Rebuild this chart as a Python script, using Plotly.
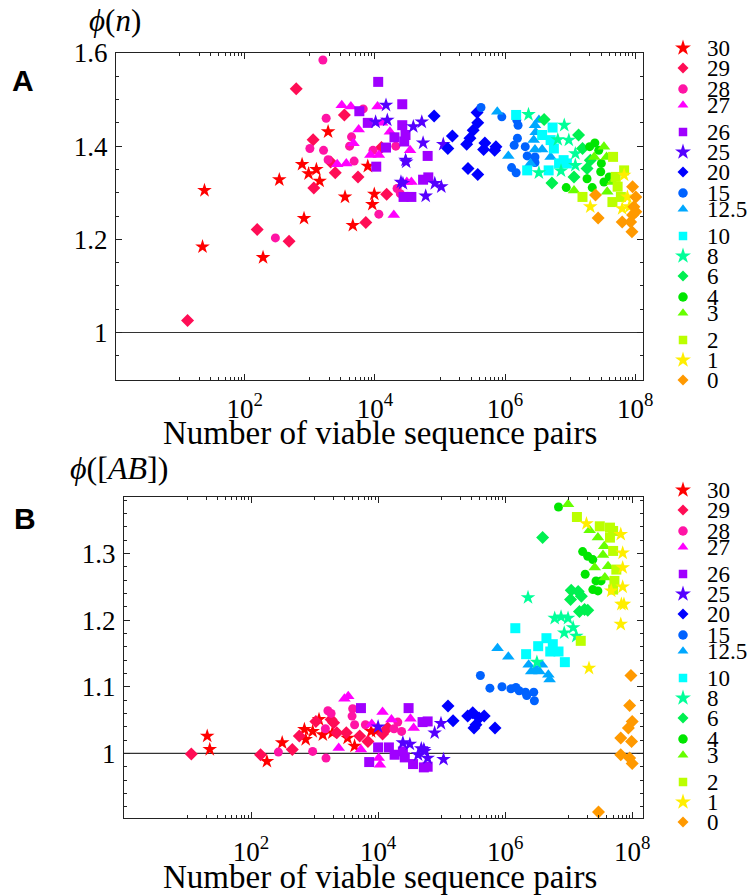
import plotly.graph_objects as go

W, H = 753, 896

categories = ["30", "29", "28", "27", "26", "25", "20", "15", "12.5",
              "10", "8", "6", "4", "3", "2", "1", "0"]
colors = ["#FF0000", "#FF0D55", "#FF14A5", "#FF00FF", "#A000FF", "#5500FF",
          "#0000FF", "#0062FF", "#00A8FF", "#00FFFF", "#00FF99", "#00F050",
          "#00E600", "#66FF00", "#BBFF00", "#FFEE00", "#FF9900"]

# ---- Panel A: (log10 of number of viable pairs, phi(n)) ----
a30 = [(1.38, 1.305), (1.35, 1.184), (2.28, 1.161), (2.53, 1.328), (2.91, 1.245), (2.88, 1.361),
       (2.98, 1.341), (3.10, 1.350), (3.15, 1.325), (3.28, 1.431), (3.54, 1.291), (3.66, 1.230),
       (3.89, 1.357), (3.99, 1.297), (3.96, 1.275)]
a29 = [(1.12, 1.026), (2.19, 1.221), (2.68, 1.196), (2.79, 1.523), (3.06, 1.310), (3.05, 1.414),
       (3.32, 1.366), (3.39, 1.343), (3.53, 1.467), (3.74, 1.334), (3.86, 1.236), (4.10, 1.397),
       (4.18, 1.297)]
a28 = [(2.47, 1.203), (3.00, 1.395), (3.20, 1.585), (3.25, 1.460), (3.21, 1.391), (3.28, 1.371),
       (3.64, 1.420), (3.61, 1.400), (3.68, 1.368), (3.82, 1.480), (3.97, 1.391), (4.06, 1.254),
       (4.32, 1.400), (4.34, 1.309), (4.39, 1.298)]
a27 = [(3.49, 1.488), (3.63, 1.485), (4.04, 1.485), (3.75, 1.436), (3.67, 1.406), (4.11, 1.450),
       (4.23, 1.431), (3.56, 1.363), (3.42, 1.361), (3.93, 1.381), (4.06, 1.381), (4.29, 1.252),
       (4.54, 1.391), (4.56, 1.323), (4.49, 1.323)]
a26 = [(4.05, 1.538), (4.42, 1.490), (3.76, 1.475), (3.89, 1.450), (4.42, 1.445), (4.30, 1.419),
       (4.45, 1.410), (4.17, 1.397), (4.02, 1.356), (4.47, 1.424), (4.81, 1.379), (4.74, 1.328),
       (4.82, 1.333), (4.56, 1.291), (4.44, 1.291)]
a25 = [(4.17, 1.488), (4.19, 1.456), (4.01, 1.452), (4.47, 1.370), (4.40, 1.323), (4.72, 1.452),
       (4.59, 1.442), (4.74, 1.407), (5.05, 1.404), (4.48, 1.366), (4.92, 1.320), (5.02, 1.313),
       (4.78, 1.293), (4.43, 1.320)]
a20 = [(4.91, 1.465), (5.19, 1.422), (5.12, 1.395), (5.57, 1.472), (5.58, 1.450), (5.51, 1.434),
       (5.46, 1.417), (5.41, 1.404), (5.69, 1.407), (5.67, 1.393), (5.84, 1.391), (5.86, 1.399),
       (5.43, 1.352), (5.58, 1.339)]
a15 = [(5.63, 1.483), (5.95, 1.463), (6.18, 1.456), (6.20, 1.445), (6.19, 1.417), (6.14, 1.402),
       (6.31, 1.399), (6.34, 1.379), (6.46, 1.377), (6.46, 1.365), (6.10, 1.354), (6.17, 1.343)]
a12_5 = [(5.88, 1.474), (6.05, 1.379), (6.46, 1.445), (6.44, 1.413), (6.46, 1.393), (6.57, 1.393),
         (6.39, 1.363), (6.70, 1.377), (6.52, 1.456), (6.47, 1.430)]
a10 = [(6.17, 1.467), (6.73, 1.440), (6.57, 1.424), (6.70, 1.413), (6.75, 1.395), (6.90, 1.370),
       (6.67, 1.348), (6.34, 1.348), (6.83, 1.363), (6.95, 1.363)]
a8 = [(6.36, 1.468), (6.91, 1.445), (6.81, 1.414), (6.98, 1.413), (7.08, 1.384), (6.86, 1.347),
      (6.52, 1.343), (7.08, 1.359)]
a6 = [(6.60, 1.457), (7.13, 1.424), (7.19, 1.395), (7.06, 1.334), (6.72, 1.321), (7.26, 1.352),
      (7.31, 1.370)]
a4 = [(7.38, 1.407), (7.30, 1.399), (7.44, 1.391), (6.94, 1.311), (7.26, 1.330), (7.34, 1.311),
      (7.47, 1.345), (7.52, 1.323), (7.60, 1.334), (7.48, 1.363)]
a3 = [(7.52, 1.399), (7.56, 1.377), (7.37, 1.377), (7.06, 1.305), (7.57, 1.302), (7.65, 1.323)]
a2 = [(7.66, 1.377), (7.83, 1.348), (7.73, 1.313), (7.65, 1.280), (7.19, 1.291), (7.78, 1.291),
      (7.70, 1.334)]
a1 = [(7.83, 1.338), (7.88, 1.291), (7.31, 1.270), (7.80, 1.266), (7.91, 1.270)]
a0 = [(7.96, 1.313), (8.01, 1.291), (7.98, 1.270), (7.96, 1.252), (7.80, 1.237), (7.95, 1.216),
      (7.43, 1.246), (7.39, 1.295), (8.01, 1.259), (7.93, 1.237)]

# ---- Panel B: (log10 of number of viable pairs, phi([AB])) ----
b30 = [(1.31, 1.026), (1.35, 1.006), (2.25, 0.988), (2.49, 1.016), (2.84, 1.036), (2.86, 1.021),
       (2.97, 1.033), (3.07, 1.051), (3.13, 1.028), (3.28, 1.031), (3.52, 1.023), (3.63, 1.011),
       (3.89, 1.033), (3.97, 1.034)]
b29 = [(1.06, 0.999), (2.15, 0.998), (2.65, 1.006), (2.76, 1.026), (3.02, 1.048), (3.26, 1.051),
       (3.30, 1.046), (3.35, 1.031), (3.50, 1.031), (3.71, 1.026), (3.84, 1.018), (4.07, 1.029),
       (4.15, 1.038)]
b28 = [(2.43, 1.002), (2.97, 1.003), (3.18, 0.993), (3.17, 1.037), (3.21, 1.064), (3.26, 1.060),
       (3.60, 1.067), (3.59, 1.056), (3.63, 1.043), (3.80, 1.043), (4.31, 1.047), (4.37, 1.033),
       (4.25, 1.037)]
b27 = [(3.47, 1.082), (3.53, 1.086), (3.38, 1.008), (3.90, 1.044), (4.07, 1.062), (4.21, 1.051),
       (4.51, 1.052), (4.56, 1.038), (3.73, 1.006), (4.01, 0.993), (4.03, 0.983)]
b26 = [(3.73, 1.068), (4.48, 1.068), (4.70, 1.047), (4.00, 1.009), (4.17, 1.009), (3.86, 0.987),
       (4.26, 0.998), (4.42, 0.994), (4.55, 0.984), (4.72, 0.979), (4.78, 1.048), (4.78, 0.980),
       (4.39, 1.003)]
b25 = [(4.39, 1.016), (4.50, 1.014), (4.68, 1.007), (4.63, 0.998), (4.00, 1.040), (4.99, 1.045),
       (4.89, 1.031), (4.72, 1.006), (4.78, 0.993), (5.03, 0.991), (4.73, 1.003)]
b20 = [(5.10, 1.071), (5.18, 1.049), (5.41, 1.056), (5.49, 1.061), (5.54, 1.043), (5.59, 1.053),
       (5.67, 1.056), (5.84, 1.038), (5.51, 1.038)]
b15 = [(5.61, 1.117), (5.76, 1.098), (5.95, 1.100), (6.09, 1.097), (6.17, 1.099), (6.22, 1.094),
       (6.32, 1.092), (6.34, 1.087), (6.45, 1.092), (6.46, 1.079)]
b12_5 = [(5.88, 1.158), (6.05, 1.145), (6.37, 1.133), (6.41, 1.123), (6.58, 1.133), (6.54, 1.123),
         (6.48, 1.126), (6.70, 1.111), (6.68, 1.118)]
b10 = [(6.16, 1.188), (6.33, 1.149), (6.65, 1.173), (6.52, 1.161), (6.75, 1.164), (6.71, 1.153),
       (6.84, 1.153), (6.94, 1.137)]
b8 = [(6.36, 1.234), (6.78, 1.203), (6.88, 1.205), (6.99, 1.203), (6.93, 1.181), (7.07, 1.189),
      (7.12, 1.176), (6.50, 1.137)]
b6 = [(6.59, 1.324), (7.04, 1.245), (7.15, 1.243), (7.20, 1.236), (7.03, 1.231), (7.17, 1.213),
      (7.25, 1.216), (7.30, 1.215)]
b4 = [(6.84, 1.370), (7.22, 1.303), (7.30, 1.296), (7.38, 1.291), (7.26, 1.269), (7.43, 1.259),
      (7.51, 1.259), (7.38, 1.246), (7.46, 1.244)]
b3 = [(6.99, 1.374), (7.33, 1.335), (7.46, 1.324), (7.56, 1.311), (7.54, 1.298), (7.62, 1.281),
      (7.57, 1.264), (7.41, 1.279)]
b2 = [(7.13, 1.355), (7.49, 1.341), (7.65, 1.339), (7.70, 1.334), (7.65, 1.324), (7.70, 1.304),
      (7.75, 1.276), (7.72, 1.259), (7.70, 1.246), (7.19, 1.169)]
b1 = [(7.28, 1.345), (7.82, 1.329), (7.85, 1.301), (7.85, 1.279), (7.85, 1.250), (7.83, 1.224),
      (7.87, 1.224), (7.82, 1.194), (7.32, 1.128), (7.67, 1.244)]
b0 = [(7.98, 1.117), (7.96, 1.072), (8.00, 1.048), (7.94, 1.038), (7.99, 1.018), (7.82, 1.023),
      (7.82, 0.998), (7.96, 0.993), (8.00, 0.985), (7.47, 0.912)]

panelA = [a30, a29, a28, a27, a26, a25, a20, a15, a12_5, a10, a8, a6, a4, a3, a2, a1, a0]
panelB = [b30, b29, b28, b27, b26, b25, b20, b15, b12_5, b10, b8, b6, b4, b3, b2, b1, b0]

x_tickvals = [1e2, 1e4, 1e6, 1e8]
x_ticktext = ["10<sup>2</sup>", "10<sup>4</sup>", "10<sup>6</sup>", "10<sup>8</sup>"]
x_title = "Number of viable sequence pairs"

# ---- styles ----
plot_symbols = ["star", "diamond", "circle", "triangle-up", "square"]
plot_sizes = [11, 10, 9, 11, 10]
leg_symbols = ["star", "diamond", "circle", "triangle-up", "square"]
leg_sizes = [12, 8.5, 9.5, 9.5, 8.5]
SERIF = "Liberation Serif"

fig = go.Figure()

for panel, xa, ya in [(panelA, "x", "y"), (panelB, "x2", "y2")]:
    for i, (cat, pts) in enumerate(zip(categories, panel)):
        fig.add_trace(go.Scatter(
            x=[10 ** p[0] for p in pts], y=[p[1] for p in pts],
            mode="markers", xaxis=xa, yaxis=ya, showlegend=False, name=cat,
            marker=dict(symbol=plot_symbols[i % 5], size=plot_sizes[i % 5],
                        color=colors[i], line=dict(width=0))))

# ---- custom legends (pixel-space helper axis) ----
group_offsets = [0, 20, 41, 57, 84]
legend_tops = [48, 490]
leg_x, leg_tx = 683, 705
annotations = []
for top in legend_tops:
    ys = [top + 104 * (i // 5) + group_offsets[i % 5] for i in range(len(categories))]
    for i, cat in enumerate(categories):
        fig.add_trace(go.Scatter(
            x=[leg_x], y=[ys[i]], mode="markers", xaxis="x3", yaxis="y3",
            showlegend=False, hoverinfo="skip",
            marker=dict(symbol=leg_symbols[i % 5], size=leg_sizes[i % 5],
                        color=colors[i], line=dict(width=0))))
        annotations.append(dict(x=leg_tx, y=ys[i], xref="x3", yref="y3", text=cat,
                                showarrow=False, xanchor="left", yanchor="middle",
                                font=dict(family=SERIF, size=23, color="black")))

# panel labels and axis titles
def pa(px, py, text, font):
    annotations.append(dict(x=px / W, y=1 - py / H, xref="paper", yref="paper",
                            xanchor="center", yanchor="middle",
                            text=text, showarrow=False, font=font))

pa(23, 80, "<b>A</b>", dict(family="Liberation Sans", size=30, color="black"))
pa(25, 518, "<b>B</b>", dict(family="Liberation Sans", size=30, color="black"))
pa(115, 20, "<i>ϕ</i>(<i>n</i>)", dict(family=SERIF, size=31, color="black"))
pa(119, 468, "<i>ϕ</i>([<i>AB</i>])", dict(family=SERIF, size=32, color="black"))
pa(380, 433, x_title, dict(family=SERIF, size=33, color="black"))
pa(380, 877, x_title, dict(family=SERIF, size=33, color="black"))

axis_common = dict(showline=True, linecolor="#222", linewidth=1.3, mirror="allticks",
                   ticks="inside", ticklen=6, tickcolor="#222", tickwidth=1,
                   showgrid=False, zeroline=False, automargin=False,
                   tickfont=dict(family=SERIF, size=27, color="black"))

minor_x = [k * 10 ** d for d in (1, 3, 5, 7) for k in range(1, 10)]

xaxis_common = dict(axis_common, type="log", tickmode="array", tickvals=x_tickvals,
                    ticktext=x_ticktext,
                    minor=dict(tickmode="array", tickvals=minor_x, ticks="inside",
                               ticklen=3, tickcolor="#222"))

fig.update_layout(
    width=W, height=H, margin=dict(l=0, r=0, t=0, b=0, autoexpand=False),
    paper_bgcolor="white", plot_bgcolor="rgba(0,0,0,0)", showlegend=False,
    xaxis=dict(xaxis_common, domain=[116 / W, 643 / W], range=[0.02, 8.12], anchor="y",
               ticklabelstandoff=4),
    yaxis=dict(axis_common, domain=[1 - 380 / H, 1 - 53 / H], range=[0.898, 1.6],
               tickmode="linear", tick0=1.0, dtick=0.2, ticklabelstandoff=2,
               minor=dict(dtick=0.05, ticks="inside", ticklen=3, tickcolor="#222"),
               anchor="x"),
    xaxis2=dict(xaxis_common, domain=[124 / W, 643 / W], range=[0.0, 8.17], anchor="y2",
                ticklabelstandoff=9),
    yaxis2=dict(axis_common, domain=[1 - 818 / H, 1 - 497 / H], range=[0.903, 1.385],
                tickmode="linear", tick0=1.0, dtick=0.1, ticklabelstandoff=2,
                minor=dict(dtick=0.02, ticks="inside", ticklen=3, tickcolor="#222"),
                anchor="x2"),
    xaxis3=dict(domain=[0, 1], range=[0, W], visible=False, anchor="y3", automargin=False),
    yaxis3=dict(domain=[0, 1], range=[H, 0], visible=False, anchor="x3", automargin=False),
    annotations=annotations,
    shapes=[dict(type="line", xref="x domain", yref="y", x0=0, x1=1, y0=1, y1=1,
                 line=dict(color="#333", width=1.2), layer="below"),
            dict(type="line", xref="x2 domain", yref="y2", x0=0, x1=1, y0=1, y1=1,
                 line=dict(color="#333", width=1.2), layer="below")],
)

fig.write_html("out.html", config={"displayModeBar": False},
               post_script="document.body.style.margin='0';document.body.style.overflow='hidden';")
